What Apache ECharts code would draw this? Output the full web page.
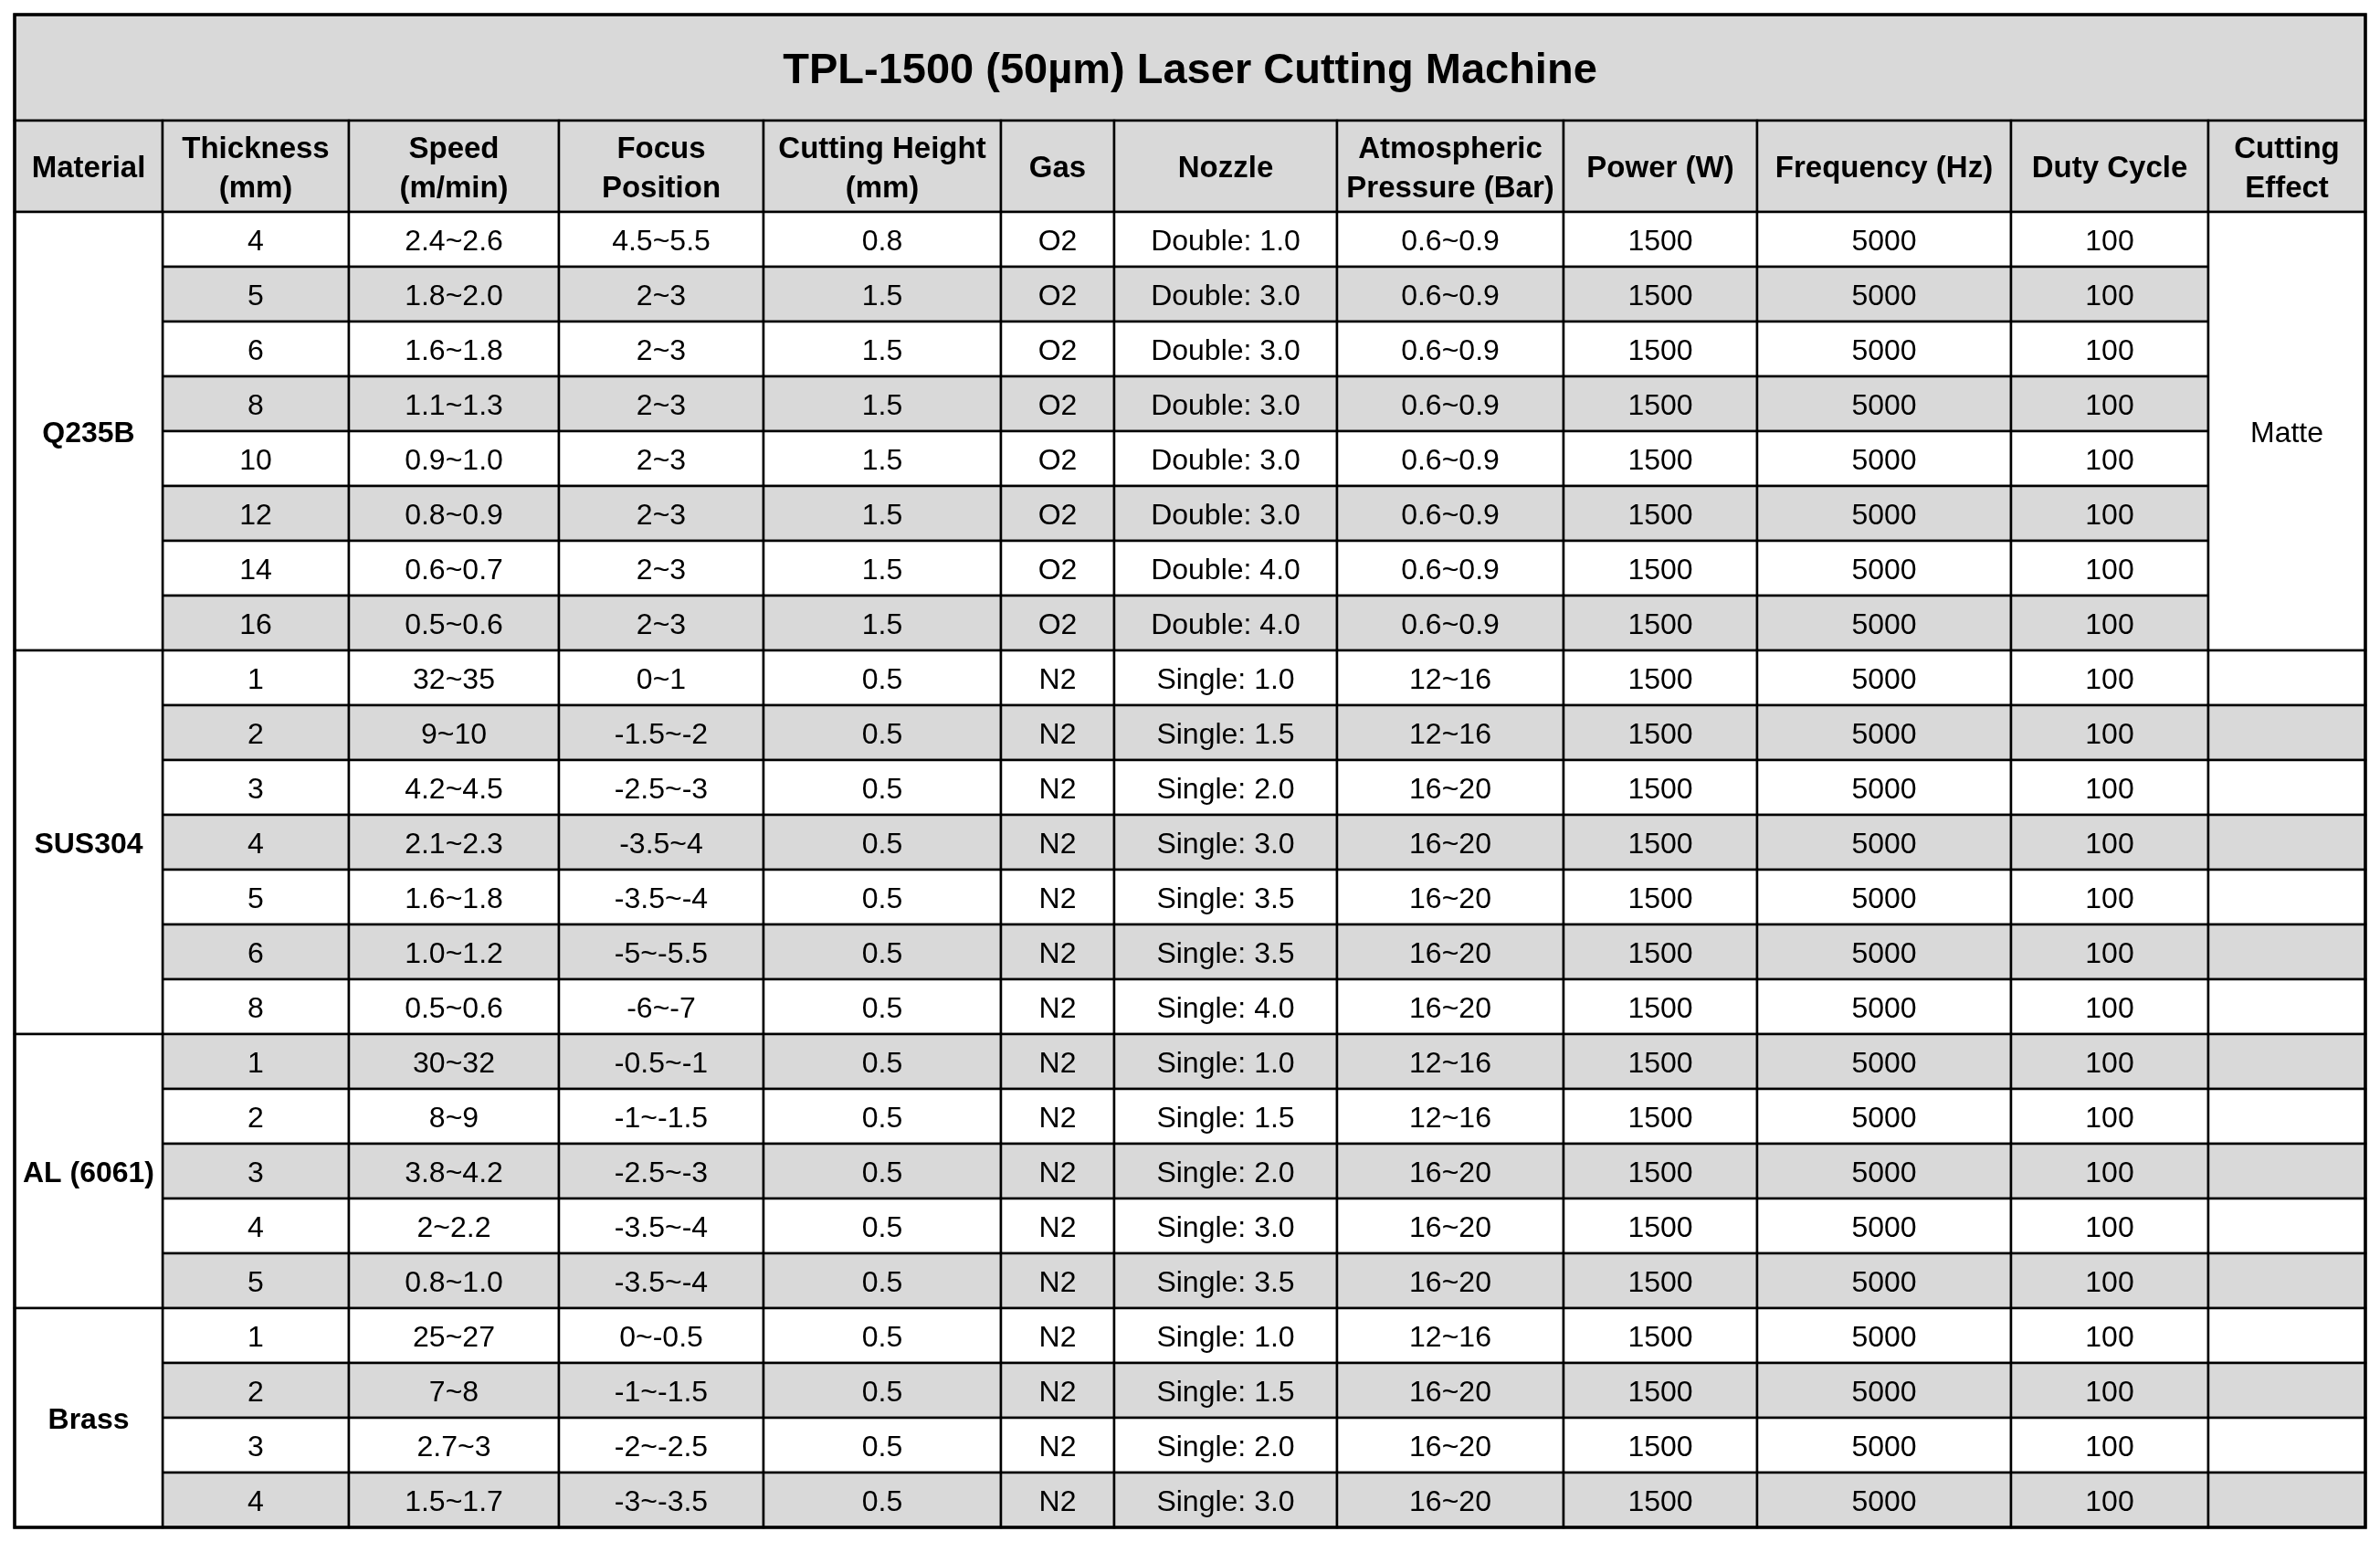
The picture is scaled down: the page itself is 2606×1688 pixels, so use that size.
<!DOCTYPE html>
<html><head><meta charset="utf-8">
<script src="https://cdn.jsdelivr.net/npm/echarts@6/dist/echarts.min.js"></script>
<style>html,body{margin:0;padding:0;background:#fff}#c{width:2606px;height:1688px}</style>
</head><body><div id="c"></div>
<script>
// ---- data ----
const title = 'TPL-1500 (50µm) Laser Cutting Machine';
const headers = ['Material', 'Thickness\n(mm)', 'Speed\n(m/min)', 'Focus\nPosition', 'Cutting Height\n(mm)', 'Gas', 'Nozzle', 'Atmospheric\nPressure (Bar)', 'Power (W)', 'Frequency (Hz)', 'Duty Cycle', 'Cutting\nEffect'];
const materials = ['Q235B', 'SUS304', 'AL (6061)', 'Brass'];
const materialRowCounts = [8, 7, 5, 4];
const cuttingEffect = ['Matte', '', '', ''];
const cuttingEffectMerged = [true, false, false, false];
const thickness = ['4','5','6','8','10','12','14','16', '1','2','3','4','5','6','8', '1','2','3','4','5', '1','2','3','4'];
const speed = ['2.4~2.6','1.8~2.0','1.6~1.8','1.1~1.3','0.9~1.0','0.8~0.9','0.6~0.7','0.5~0.6',
  '32~35','9~10','4.2~4.5','2.1~2.3','1.6~1.8','1.0~1.2','0.5~0.6',
  '30~32','8~9','3.8~4.2','2~2.2','0.8~1.0',
  '25~27','7~8','2.7~3','1.5~1.7'];
const focus = ['4.5~5.5','2~3','2~3','2~3','2~3','2~3','2~3','2~3',
  '0~1','-1.5~-2','-2.5~-3','-3.5~4','-3.5~-4','-5~-5.5','-6~-7',
  '-0.5~-1','-1~-1.5','-2.5~-3','-3.5~-4','-3.5~-4',
  '0~-0.5','-1~-1.5','-2~-2.5','-3~-3.5'];
const cuttingHeight = ['0.8','1.5','1.5','1.5','1.5','1.5','1.5','1.5',
  '0.5','0.5','0.5','0.5','0.5','0.5','0.5',
  '0.5','0.5','0.5','0.5','0.5',
  '0.5','0.5','0.5','0.5'];
const gas = ['O2','O2','O2','O2','O2','O2','O2','O2',
  'N2','N2','N2','N2','N2','N2','N2',
  'N2','N2','N2','N2','N2',
  'N2','N2','N2','N2'];
const nozzle = ['Double: 1.0','Double: 3.0','Double: 3.0','Double: 3.0','Double: 3.0','Double: 3.0','Double: 4.0','Double: 4.0',
  'Single: 1.0','Single: 1.5','Single: 2.0','Single: 3.0','Single: 3.5','Single: 3.5','Single: 4.0',
  'Single: 1.0','Single: 1.5','Single: 2.0','Single: 3.0','Single: 3.5',
  'Single: 1.0','Single: 1.5','Single: 2.0','Single: 3.0'];
const pressure = ['0.6~0.9','0.6~0.9','0.6~0.9','0.6~0.9','0.6~0.9','0.6~0.9','0.6~0.9','0.6~0.9',
  '12~16','12~16','16~20','16~20','16~20','16~20','16~20',
  '12~16','12~16','16~20','16~20','16~20',
  '12~16','16~20','16~20','16~20'];
const power = ['1500','1500','1500','1500','1500','1500','1500','1500','1500','1500','1500','1500','1500','1500','1500','1500','1500','1500','1500','1500','1500','1500','1500','1500'];
const frequency = ['5000','5000','5000','5000','5000','5000','5000','5000','5000','5000','5000','5000','5000','5000','5000','5000','5000','5000','5000','5000','5000','5000','5000','5000'];
const dutyCycle = ['100','100','100','100','100','100','100','100','100','100','100','100','100','100','100','100','100','100','100','100','100','100','100','100'];

// ---- layout (not data) ----
const COL_W = [162, 204, 230, 224, 260, 124, 244, 248, 212, 278, 216, 172];
const TITLE_H = 116, HEAD_H = 100, ROW_H = 60;
const GRAY = '#D9D9D9';
const FONT = '"Liberation Sans", Arial, sans-serif';

const colX = [0];
COL_W.forEach(w => colX.push(colX[colX.length - 1] + w));
const totalW = colX[colX.length - 1];
const nRows = thickness.length;
const totalH = TITLE_H + HEAD_H + nRows * ROW_H;
const rowY = r => TITLE_H + HEAD_H + r * ROW_H;

const cells = [];
// [x0, x1, y0, y1, text, fill, bold, fontSize, lineHeight, textDy]
function addCell(c0, c1, y0, y1, text, fill, bold, size, lh, dy) {
  cells.push([colX[c0], colX[c1], y0, y1, text, fill, bold ? 1 : 0, size, lh, dy]);
}
addCell(0, COL_W.length, 0, TITLE_H, title, GRAY, true, 47, 52, 4);
headers.forEach((h, i) => addCell(i, i + 1, TITLE_H, TITLE_H + HEAD_H, h, GRAY, true, 33, 43, 3));
const bodyCols = [thickness, speed, focus, cuttingHeight, gas, nozzle, pressure, power, frequency, dutyCycle];
for (let r = 0; r < nRows; r++) {
  const fill = r % 2 === 0 ? '#FFFFFF' : GRAY;
  bodyCols.forEach((arr, k) => addCell(k + 1, k + 2, rowY(r), rowY(r + 1), arr[r], fill, false, 32, 36, 3));
}
let start = 0;
materials.forEach((m, i) => {
  const end = start + materialRowCounts[i];
  addCell(0, 1, rowY(start), rowY(end), m, '#FFFFFF', true, 32, 36, 3);
  if (cuttingEffectMerged[i]) {
    addCell(11, 12, rowY(start), rowY(end), cuttingEffect[i], '#FFFFFF', false, 32, 36, 3);
  } else {
    for (let r = start; r < end; r++) {
      addCell(11, 12, rowY(r), rowY(r + 1), cuttingEffect[i], r % 2 === 0 ? '#FFFFFF' : GRAY, false, 32, 36, 3);
    }
  }
  start = end;
});

const chart = echarts.init(document.getElementById('c'));
chart.setOption({
  animation: false,
  backgroundColor: '#ffffff',
  grid: { left: 16, right: 16, top: 16, bottom: 16 },
  xAxis: { type: 'value', min: 0, max: totalW, show: false },
  yAxis: { type: 'value', min: 0, max: totalH, inverse: true, show: false },
  series: [{
    type: 'custom',
    clip: false,
    data: cells,
    encode: { x: [0, 1], y: [2, 3] },
    renderItem: function (params, api) {
      const p0 = api.coord([api.value(0), api.value(2)]);
      const p1 = api.coord([api.value(1), api.value(3)]);
      const d = cells[params.dataIndex];
      return {
        type: 'group',
        children: [{
          type: 'rect',
          shape: { x: p0[0], y: p0[1], width: p1[0] - p0[0], height: p1[1] - p0[1] },
          style: { fill: d[5], stroke: '#000', lineWidth: 2.5 }
        }, {
          type: 'text',
          style: {
            text: d[4], x: (p0[0] + p1[0]) / 2, y: (p0[1] + p1[1]) / 2 + d[9],
            align: 'center', verticalAlign: 'middle',
            font: (d[6] ? 'bold ' : '') + d[7] + 'px ' + FONT,
            lineHeight: d[8], fill: '#000'
          }
        }]
      };
    }
  }, {
    type: 'custom',
    clip: false,
    data: [[0, totalW, 0, totalH]],
    encode: { x: [0, 1], y: [2, 3] },
    silent: true,
    renderItem: function (params, api) {
      const p0 = api.coord([api.value(0), api.value(2)]);
      const p1 = api.coord([api.value(1), api.value(3)]);
      return {
        type: 'rect',
        shape: { x: p0[0], y: p0[1], width: p1[0] - p0[0], height: p1[1] - p0[1] },
        style: { fill: 'none', stroke: '#000', lineWidth: 3.5 }
      };
    }
  }]
});
</script>
</body></html>
